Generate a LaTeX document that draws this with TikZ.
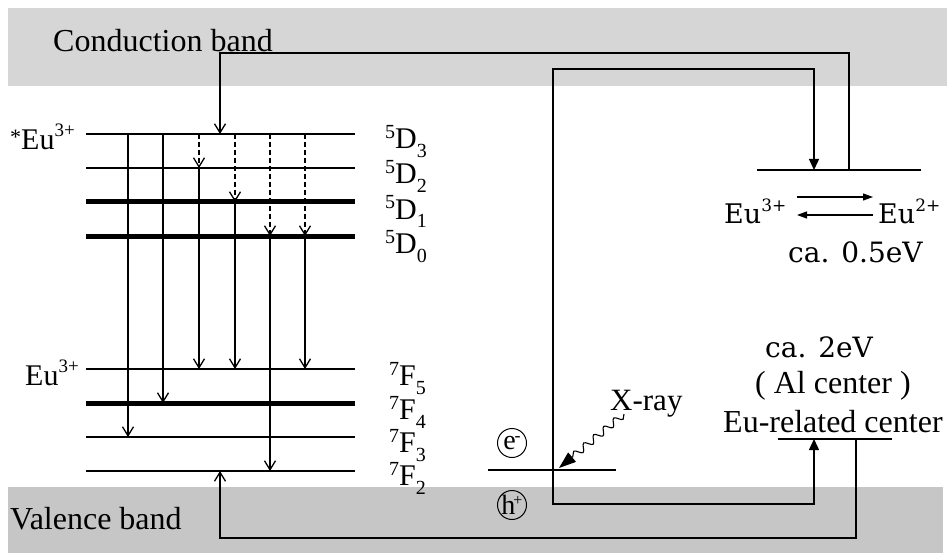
\documentclass[tikz,border=0pt]{standalone}
\usepackage{fontspec}
\setmainfont{Liberation Serif}
\newfontfamily\centfont{DejaVu Serif}
\usetikzlibrary{arrows.meta,decorations.pathmorphing,calc}
\definecolor{cbgray}{RGB}{214,214,214}
\definecolor{vbgray}{RGB}{198,198,198}
\newcommand{\fsz}[1]{\fontsize{#1}{#1}\selectfont}
\newcommand{\lvlab}[3]{{\fsz{20}\raisebox{10pt}{#1}}#2{\fsz{20}\raisebox{-9pt}{#3}}}
\newcommand{\euion}[1]{Eu{\fsz{19}\raisebox{13pt}{#1}}}
\newcommand{\euionc}[1]{Eu{\fsz{17}\raisebox{12pt}{#1}}}
\begin{document}
\begin{tikzpicture}[x=1pt,y=-1pt,
  thinlvl/.style={line width=1.4pt},
  thicklvl/.style={line width=5pt},
  conn/.style={line width=1.3pt},
  openarr/.style={conn,-{Straight Barb[length=9pt,width=11pt]}},
  dasharr/.style={openarr,dash pattern=on 5pt off 3pt},
  fillarr/.style={conn,-{Triangle[length=11pt,width=10pt]}},
  smallarr/.style={line width=1.1pt,-{Triangle[length=10pt,width=7pt]}},
  lbl/.style={font=\fsz{30},inner sep=0pt,anchor=base west},
  bandlbl/.style={font=\fsz{32},inner sep=0pt,anchor=base west},
  centlbl/.style={font=\centfont\fsz{28},inner sep=0pt,anchor=base west},
  carrier/.style={circle,draw,line width=1pt,inner sep=0pt,minimum size=29pt,font=\fsz{28}}]
\useasboundingbox (0,0) rectangle (949,553);
\fill[white] (0,0) rectangle (949,553);
\fill[cbgray] (8,8) rectangle (947,86);
\fill[vbgray] (8,487) rectangle (943,553);

\node[bandlbl] (cb) at (53,52) {Conduction band};
\node[bandlbl] (vb) at (10,529) {Valence band};

% levels
\foreach \n/\y/\s in {D3/134/thinlvl, D2/168/thinlvl, D1/202/thicklvl, D0/236/thicklvl, F5/369/thinlvl, F4/403/thicklvl, F3/437/thinlvl, F2/471/thinlvl}{
  \coordinate (\n) at (86,\y);
  \coordinate (\n r) at (355,\y);
  \draw[\s] (\n) -- (\n r);
}

\node[lbl] (ex) at (10,150) {\raisebox{5pt}{\fsz{22}*}\euion{3+}};
\node[lbl] (gr) at (25,385) {\euion{3+}};

\node[lbl] (lD3) at (385,149) {\lvlab{5}{D}{3}};
\node[lbl] (lD2) at (385,184) {\lvlab{5}{D}{2}};
\node[lbl] (lD1) at (385,219) {\lvlab{5}{D}{1}};
\node[lbl] (lD0) at (385,253) {\lvlab{5}{D}{0}};
\node[lbl] (lF5) at (389,385) {\lvlab{7}{F}{5}};
\node[lbl] (lF4) at (389,419) {\lvlab{7}{F}{4}};
\node[lbl] (lF3) at (389,452) {\lvlab{7}{F}{3}};
\node[lbl] (lF2) at (389,485) {\lvlab{7}{F}{2}};

% transition columns
\coordinate (c1) at (128,0);
\coordinate (c2) at (163,0);
\coordinate (c3) at (199,0);
\coordinate (c4) at (235,0);
\coordinate (c5) at (270,0);
\coordinate (c6) at (305,0);
\coordinate (cin) at (220,0);

\draw[openarr] (c1|-D3) -- (c1|-F3);
\draw[openarr] (c2|-D3) -- (c2|-F4);
\draw[dasharr] (c3|-D3) -- (c3|-D2);
\draw[openarr] (c3|-D2) -- (c3|-F5);
\draw[dasharr] (c4|-D3) -- (c4|-D1);
\draw[openarr] (c4|-D1) -- (c4|-F5);
\draw[dasharr] (c5|-D3) -- (c5|-D0);
\draw[openarr] (c5|-D0) -- (c5|-F2);
\draw[dasharr] (c6|-D3) -- (c6|-D0);
\draw[openarr] (c6|-D0) -- (c6|-F5);

% right-side levels
\coordinate (EuL) at (757,170);
\coordinate (EuR) at (921,170);
\draw[thinlvl] (EuL) -- (EuR);
\coordinate (ERL) at (778,439);
\coordinate (ERR) at (892,439);
\draw[thinlvl] (ERL) -- (ERR);
\coordinate (eL) at (488,470);
\coordinate (eR) at (616,470);
\draw[thinlvl] (eL) -- (eR);

\coordinate (cbtop) at (0,53);
\coordinate (cbmid) at (0,69);
\coordinate (vbmid) at (0,504);
\coordinate (vbbot) at (0,538);
\coordinate (k1) at (849,0);
\coordinate (k2) at (814,0);
\coordinate (k3) at (553,0);
\coordinate (k4) at (856,0);

\draw[openarr] (k1|-EuL) -- (k1|-cbtop) -- (cin|-cbtop) -- (cin|-D3);
\draw[fillarr] (k3|-eL) -- (k3|-cbmid) -- (k2|-cbmid) -- (k2|-EuL);
\draw[fillarr] (k3|-eL) -- (k3|-vbmid) -- (k2|-vbmid) -- (k2|-ERL);
\draw[openarr] (k4|-ERL) -- (k4|-vbbot) -- (cin|-vbbot) -- (cin|-F2);

% Eu3+ <-> Eu2+
\node[centlbl,font=\centfont\fsz{27}] (eu3) at (724,223) {\euionc{3+}};
\node[centlbl,font=\centfont\fsz{27}] (eu2) at (878,223) {\euionc{2+}};
\coordinate (r1) at (797,197);
\coordinate (r2) at (873,197);
\coordinate (r3) at (873,215);
\coordinate (r4) at (797,215);
\draw[smallarr] (r1) -- (r2);
\draw[smallarr] (r3) -- (r4);
\node[centlbl] (ev05) at (788,262) {ca. 0.5eV};
\node[centlbl] (ev2) at (765,357) {ca. 2eV};
\node[bandlbl] (alc) at (755,393) {( Al center )};
\node[bandlbl] (erc) at (723,432) {Eu-related center};

% X-ray
\node[bandlbl,font=\fsz{31}] (xray) at (610,410) {X-ray};
\coordinate (xs) at (624,414);
\coordinate (xe) at (559,468);
\draw[line width=1.1pt,decorate,decoration={snake,segment length=13pt,amplitude=3.5pt,post length=16pt},-{Triangle[length=17pt,width=12pt]}] (xs) -- (xe);

% carriers
\node[carrier] (em) at (512,443) {e\kern-1pt\raisebox{8pt}{\fsz{18}-}};
\node[carrier] (hp) at (512,505) {h\kern-2pt\raisebox{9pt}{\fsz{16}+}};
\end{tikzpicture}
\end{document}
